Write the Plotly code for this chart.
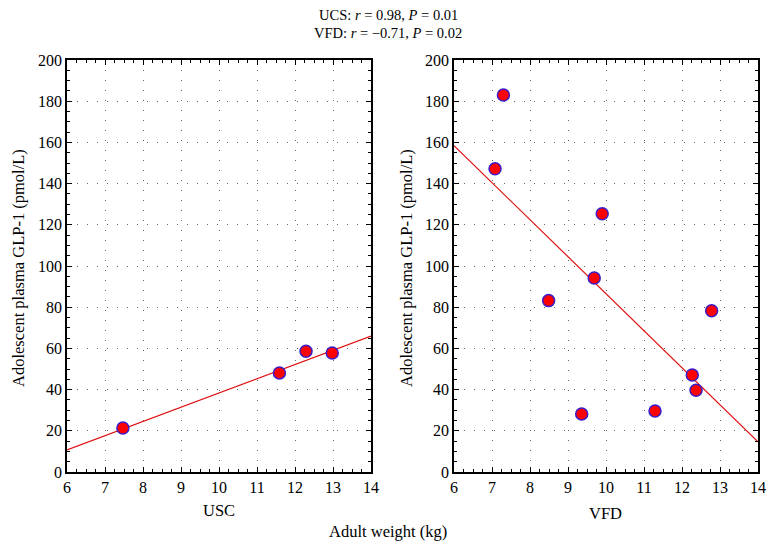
import plotly.graph_objects as go

# Data
usc_x = [7.47, 11.59, 12.29, 12.98]
usc_y = [21.4, 48.1, 58.6, 57.8]
usc_fit_x = [6, 14]
usc_fit_y = [10.7, 66.0]

vfd_x = [7.08, 7.30, 8.49, 9.36, 9.69, 9.90, 11.29, 12.27, 12.37, 12.78]
vfd_y = [147.2, 183.0, 83.2, 28.2, 94.2, 125.4, 29.6, 47.1, 39.7, 78.3]
vfd_fit_x = [6, 14]
vfd_fit_y = [158.4, 14.7]

x_ticks = [6, 7, 8, 9, 10, 11, 12, 13, 14]
y_ticks = [0, 20, 40, 60, 80, 100, 120, 140, 160, 180, 200]

FONT = "Liberation Serif"
OFF = 8  # default page body margin
W, H = 775 - 2 * OFF, 550 - 2 * OFF

def px(x):
    return (x - OFF) / W

def py(y):
    return 1 - (y - OFF) / H

fig = go.Figure()
marker = dict(size=12, color="#ff0000", line=dict(color="#3a1cc8", width=1.5))

fig.add_trace(go.Scatter(x=usc_fit_x, y=usc_fit_y, mode="lines",
                         line=dict(color="#e01010", width=1.2), xaxis="x", yaxis="y",
                         showlegend=False))
fig.add_trace(go.Scatter(x=usc_x, y=usc_y, mode="markers", marker=marker,
                         xaxis="x", yaxis="y", showlegend=False))
fig.add_trace(go.Scatter(x=vfd_fit_x, y=vfd_fit_y, mode="lines",
                         line=dict(color="#e01010", width=1.2), xaxis="x2", yaxis="y2",
                         showlegend=False))
fig.add_trace(go.Scatter(x=vfd_x, y=vfd_y, mode="markers", marker=marker,
                         xaxis="x2", yaxis="y2", showlegend=False))

ydom = [py(472), py(60)]
common_x = dict(range=[6, 14], tickvals=x_ticks, showline=True, mirror="allticks",
                linecolor="black", linewidth=1.5, ticks="inside", ticklen=5,
                tickcolor="black", showgrid=True, gridcolor="#666666", gridwidth=1,
                griddash="1px,9px", zeroline=False, automargin=False,
                tickfont=dict(family=FONT, size=16, color="black"),
                minor=dict(dtick=0.25, ticks="inside", ticklen=3, tickcolor="black",
                           showgrid=False))
common_y = dict(range=[0, 200], tickvals=y_ticks, showline=True, mirror="allticks",
                linecolor="black", linewidth=1.5, ticks="inside", ticklen=5,
                tickcolor="black", showgrid=True, gridcolor="#666666", gridwidth=1,
                griddash="1px,9px", zeroline=False, automargin=False,
                tickfont=dict(family=FONT, size=16, color="black"),
                minor=dict(dtick=5, ticks="inside", ticklen=3, tickcolor="black",
                           showgrid=False))

fig.update_layout(
    width=W, height=H,
    margin=dict(l=0, r=0, t=0, b=0),
    paper_bgcolor="white", plot_bgcolor="white",
    font=dict(family=FONT, color="black"),
    xaxis=dict(domain=[px(67), px(371)], anchor="y", **common_x),
    yaxis=dict(domain=ydom, anchor="x", **common_y),
    xaxis2=dict(domain=[px(454), px(758)], anchor="y2", **common_x),
    yaxis2=dict(domain=ydom, anchor="x2", **common_y),
)

def ann(text, x, y, size=16.5, angle=0):
    fig.add_annotation(text=text, x=px(x), y=py(y), xref="paper", yref="paper",
                       showarrow=False, textangle=angle, xanchor="center", yanchor="middle",
                       font=dict(family=FONT, size=size, color="black"))

ann("UCS: <i>r</i> = 0.98, <i>P</i> = 0.01", 388, 15, size=14.5)
ann("VFD: <i>r</i> = −0.71, <i>P</i> = 0.02", 388, 33, size=14.5)
ann("Adolescent plasma GLP-1 (pmol/L)", 18, 268, angle=-90)
ann("Adolescent plasma GLP-1 (pmol/L)", 406, 268, angle=-90)
ann("USC", 219, 510)
ann("VFD", 605, 513)
ann("Adult weight (kg)", 388, 531)

fig.write_html("out.html")
